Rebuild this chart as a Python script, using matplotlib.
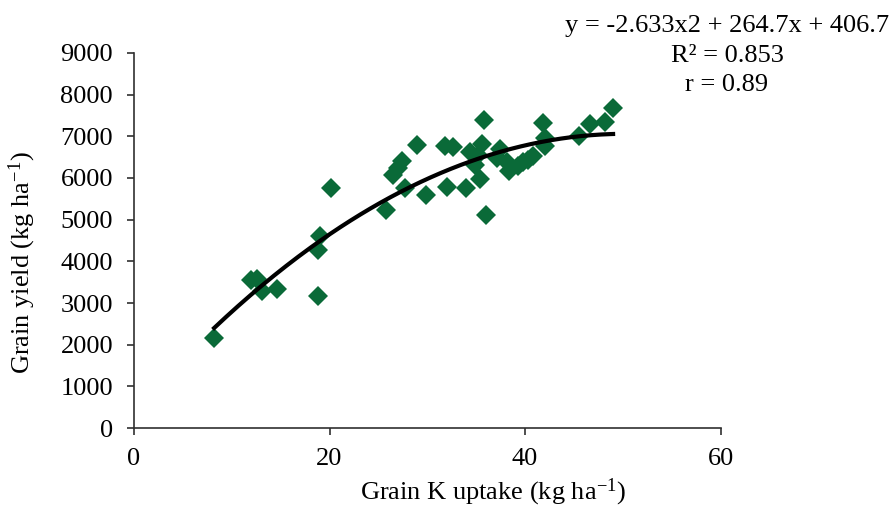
import matplotlib
matplotlib.use('Agg')
import matplotlib.pyplot as plt
import numpy as np

plt.rcParams['font.family'] = ['Liberation Serif', 'DejaVu Serif']
plt.rcParams['mathtext.fontset'] = 'custom'
plt.rcParams['mathtext.rm'] = 'Liberation Serif'
plt.rcParams['mathtext.it'] = 'Liberation Serif:italic'

# grain K uptake (kg/ha) vs grain yield (kg/ha)
k_uptake = [8.2, 12.0, 12.6, 13.1, 14.6, 18.8, 18.8, 19.0, 20.2, 25.8,
            26.5, 27.0, 27.4, 27.7, 28.9, 29.9, 31.8, 32.6, 32.0, 34.0,
            34.4, 34.9, 35.2, 35.4, 35.8, 35.6, 36.0, 37.4, 37.1, 38.1,
            38.4, 39.3, 39.8, 40.3, 40.8, 41.8, 42.0, 42.0, 45.5, 46.6,
            48.2, 49.0]
grain_yield = [2150, 3560, 3580, 3280, 3330, 3180, 4280, 4620, 5770, 5230,
               6060, 6250, 6400, 5760, 6790, 5590, 6760, 6750, 5780, 5760,
               6620, 6300, 6560, 5980, 7400, 6820, 5120, 6700, 6480, 6380,
               6170, 6280, 6380, 6440, 6520, 7330, 6950, 6760, 7000, 7300,
               7350, 7670]

# fitted quadratic trend
coef = [-2.633, 264.7, 406.7]

fs = 19
fig = plt.figure(figsize=(8.93, 5.09), dpi=100)
ax = fig.add_axes([0.150, 0.159, 0.657, 0.737])

ax.plot(k_uptake, grain_yield, linestyle='none', marker='D', markersize=9.8,
        color='#0a6a38', markeredgewidth=0, zorder=2)

xs = np.linspace(min(k_uptake), max(k_uptake), 200)
ax.plot(xs, np.polyval(coef, xs), color='black', linewidth=3.0, zorder=3)

ax.set_xlim(0, 60)
ax.set_ylim(0, 9000)
ax.set_xticks([0, 20, 40, 60])
ax.set_yticks(range(0, 9001, 1000))
for s in ['top', 'right']:
    ax.spines[s].set_visible(False)
for s in ['left', 'bottom']:
    ax.spines[s].set_color('#303030')
    ax.spines[s].set_linewidth(1.2)
ax.tick_params(axis='both', direction='out', length=5, width=1.2,
               color='#303030', labelsize=fs)
ax.tick_params(axis='y', pad=10)
ax.tick_params(axis='x', pad=9)

ax.set_xlabel('Grain K uptake (kg ha$^{-1}$)', fontsize=fs, va='center', ha='center')
ax.set_ylabel('Grain yield (kg ha$^{-1}$)', fontsize=fs, va='center', ha='center')
ax.xaxis.set_label_coords(0.612, -0.172)
ax.yaxis.set_label_coords(-0.191, 0.44)

fig.text(727 / 893, 1 - 26 / 509, 'y = -2.633x2 + 264.7x + 406.7', fontsize=fs,
         ha='center', va='center')
fig.text(727 / 893, 1 - 56 / 509, 'R² = 0.853', fontsize=fs,
         ha='center', va='center')
fig.text(727 / 893, 1 - 85 / 509, 'r = 0.89', fontsize=fs,
         ha='center', va='center')

fig.savefig('out.png', dpi=100)
